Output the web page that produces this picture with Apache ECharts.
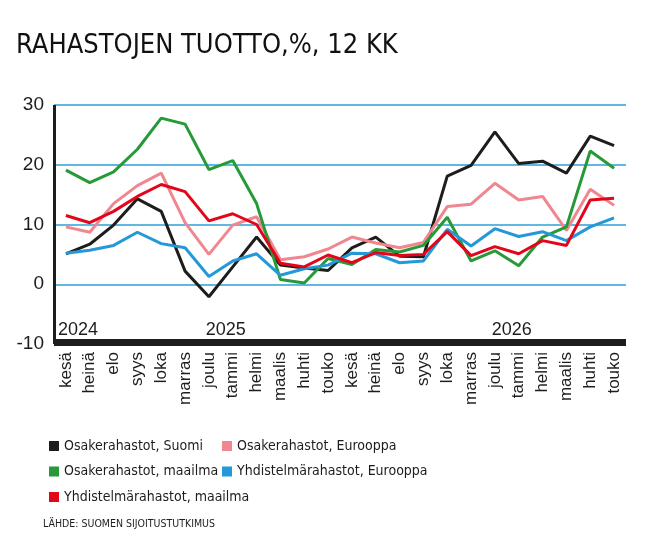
<!DOCTYPE html>
<html>
<head>
<meta charset="utf-8">
<script src="https://cdn.jsdelivr.net/npm/echarts@6/dist/echarts.min.js"></script>
<style>
	html, body { margin: 0; padding: 0; background: #fff; }
	#chart { width: 650px; height: 542px; }
</style>
</head>
<body>
<div id="chart"></div>
<script>
var months = ['kesä', 'heinä', 'elo', 'syys', 'loka', 'marras', 'joulu', 'tammi', 'helmi', 'maalis', 'huhti', 'touko',
	'kesä', 'heinä', 'elo', 'syys', 'loka', 'marras', 'joulu', 'tammi', 'helmi', 'maalis', 'huhti', 'touko'];

// 12 kk tuotto, %
var osakeSuomi = [5.1, 6.7, 9.9, 14.3, 12.2, 2.2, -2.1, 2.9, 7.9, 3.2, 2.7, 2.3,
	6.1, 7.9, 4.7, 4.6, 18.1, 19.9, 25.5, 20.2, 20.6, 18.6, 24.8, 23.2];
var osakeEurooppa = [9.6, 8.7, 13.5, 16.5, 18.6, 10.3, 5.0, 9.9, 11.3, 4.1, 4.6, 5.9,
	7.9, 6.9, 6.1, 7.0, 13.0, 13.4, 16.9, 14.1, 14.7, 9.0, 15.9, 13.2];
var osakeMaailma = [19.1, 17.0, 18.8, 22.6, 27.8, 26.8, 19.2, 20.7, 13.5, 0.8, 0.2, 4.3,
	3.3, 5.8, 5.4, 6.5, 11.2, 3.9, 5.6, 3.1, 7.9, 9.6, 22.3, 19.4];
var yhdEurooppa = [5.2, 5.7, 6.5, 8.7, 6.8, 6.1, 1.3, 3.9, 5.1, 1.5, 2.6, 3.2,
	5.2, 5.1, 3.6, 3.9, 9.2, 6.4, 9.3, 8.0, 8.8, 7.3, 9.6, 11.1];
var yhdMaailma = [11.5, 10.3, 12.2, 14.7, 16.7, 15.5, 10.6, 11.8, 10.0, 3.5, 2.9, 4.9,
	3.6, 5.3, 4.8, 5.0, 8.8, 4.8, 6.3, 5.1, 7.3, 6.5, 14.1, 14.4];

var years = ['2024', '2025', '2026'];
var yearIndex = [0, 7, 19];

var narrow = '"Liberation Sans Narrow", "DejaVu Sans Condensed", "Roboto", sans-serif';
var ink = '#1d1d1b';

var names = ['Osakerahastot, Suomi', 'Osakerahastot, Eurooppa', 'Osakerahastot, maailma',
	'Yhdistelmärahastot, Eurooppa', 'Yhdistelmärahastot, maailma'];
var colors = ['#1d1d1b', '#f0868f', '#279a38', '#2598d8', '#e3061b'];
var datas = [osakeSuomi, osakeEurooppa, osakeMaailma, yhdEurooppa, yhdMaailma];

var series = [];
for (var i = 0; i < names.length; i++) {
	series.push({
		name: names[i],
		type: 'line',
		data: datas[i],
		symbol: 'none',
		color: colors[i],
		lineStyle: { width: 3, color: colors[i] },
		z: 3
	});
}

var legendText = { fontFamily: narrow, fontSize: 14, color: ink, lineHeight: 20 };

var option = {
	backgroundColor: '#fff',
	animation: false,
	title: {
		text: 'RAHASTOJEN TUOTTO,%, 12 KK',
		left: 11,
		top: 27,
		textStyle: { fontFamily: narrow, fontSize: 27, fontWeight: 'normal', color: '#111' }
	},
	legend: [{
		data: [names[0], names[2], names[4]],
		orient: 'vertical',
		left: 44,
		top: 431,
		itemWidth: 10,
		itemHeight: 10,
		itemGap: 5.5,
		icon: 'rect',
		textStyle: legendText
	}, {
		data: [names[1], names[3]],
		orient: 'vertical',
		left: 217,
		top: 431,
		itemWidth: 10,
		itemHeight: 10,
		itemGap: 5.5,
		icon: 'rect',
		textStyle: legendText
	}],
	grid: { left: 54, right: 24, top: 105, bottom: 198 },
	xAxis: {
		type: 'category',
		data: months,
		boundaryGap: true,
		offset: -2,
		axisLine: { onZero: false, lineStyle: { color: ink, width: 7, cap: 'butt' } },
		axisTick: { show: false },
		axisLabel: {
			rotate: 90,
			interval: 0,
			margin: 10,
			fontFamily: 'Liberation Sans, Arial, sans-serif',
			fontSize: 17,
			color: ink
		},
		splitLine: { show: false }
	},
	yAxis: {
		type: 'value',
		min: -10,
		max: 30,
		interval: 10,
		axisLine: { show: true, lineStyle: { color: ink, width: 3, cap: 'butt' } },
		axisTick: { show: false },
		axisLabel: {
			margin: 10,
			fontFamily: 'Liberation Sans, Arial, sans-serif',
			fontSize: 19,
			color: ink
		},
		splitLine: {
			show: true,
			lineStyle: { color: '#2a9fd8', width: 1.5 },
			showMinLine: false
		}
	},
	series: series,
	graphic: [{
		type: 'text',
		left: 43,
		top: 519,
		style: {
			text: 'LÄHDE: SUOMEN SIJOITUSTUTKIMUS',
			font: '10.5px ' + narrow,
			fill: ink
		}
	}]
};

var myChart = echarts.init(document.getElementById('chart'));
myChart.setOption(option);

// vuosiluvut kuvaajan sisään
var yearGraphics = [];
for (var j = 0; j < years.length; j++) {
	var p = myChart.convertToPixel({ xAxisIndex: 0, yAxisIndex: 0 }, [yearIndex[j], -10]);
	var x = j === 0 ? p[0] - 8 : p[0] - 7;
	yearGraphics.push({
		type: 'text',
		x: x,
		y: p[1] - 14,
		z: 10,
		style: {
			text: years[j],
			font: '18px "Liberation Sans", Arial, sans-serif',
			fill: ink,
			align: j === 0 ? 'left' : 'center',
			verticalAlign: 'middle'
		}
	});
}
myChart.setOption({ graphic: option.graphic.concat(yearGraphics) });
</script>
</body>
</html>
